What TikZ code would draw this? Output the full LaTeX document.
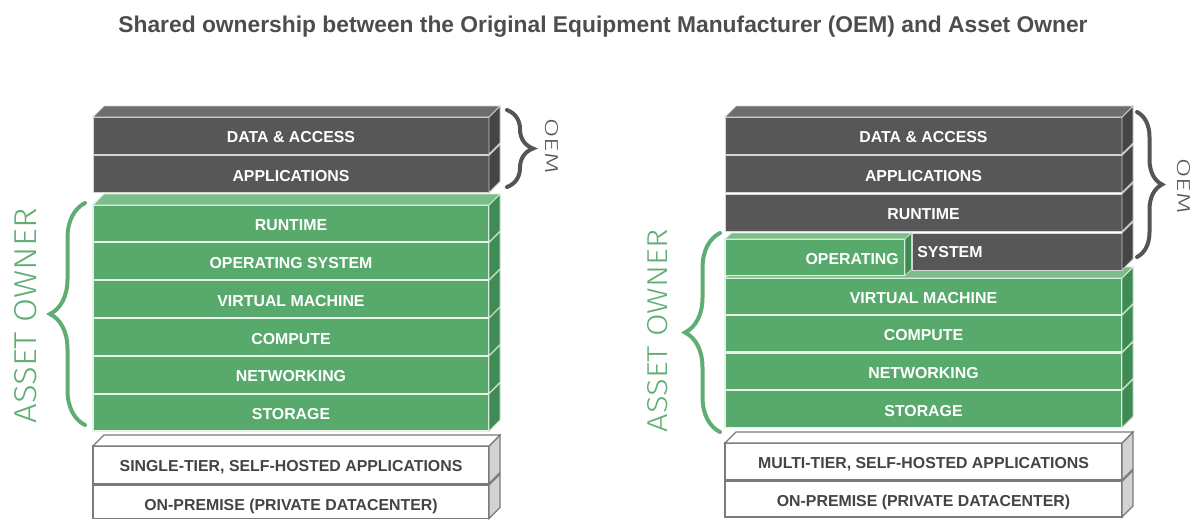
\documentclass[tikz,border=0pt]{standalone}
\usepackage{fontspec}
\setmainfont{Liberation Sans}
\newfontfamily\thinfont{Fira Sans Light}
\usetikzlibrary{decorations.pathreplacing}

\definecolor{dkfront}{HTML}{575757}
\definecolor{dktop}{HTML}{6E6E6E}
\definecolor{dkside}{HTML}{454545}
\definecolor{gnfront}{HTML}{58AA6C}
\definecolor{gntop}{HTML}{7BBE8B}
\definecolor{gnside}{HTML}{3F8B54}
\definecolor{wtside}{HTML}{D2D2D2}
\definecolor{wtline}{HTML}{7A7A7A}
\definecolor{wttext}{HTML}{444444}
\definecolor{titlegray}{HTML}{4D4D4D}
\definecolor{brgreen}{HTML}{5FAD72}
\definecolor{brgray}{HTML}{555555}

\tikzset{
  face/.style={inner sep=0pt, outer sep=0pt},
  dkF/.style={face, fill=dkfront, draw=white!75!dkfront, line width=0.7pt},
  dkS/.style={fill=dkside, draw=white!70!dkside, line width=0.6pt},
  dkT/.style={fill=dktop, draw=white!70!dktop, line width=0.6pt},
  gnF/.style={face, fill=gnfront, draw=white!85!gnfront, line width=0.8pt},
  gnS/.style={fill=gnside, draw=white!70!gnside, line width=0.6pt},
  gnT/.style={fill=gntop, draw=white!70!gntop, line width=0.6pt},
  wtF/.style={face, fill=white, draw=wtline, line width=0.9pt},
  wtS/.style={fill=wtside, draw=wtline, line width=0.9pt},
  wtT/.style={fill=white, draw=wtline, line width=0.9pt},
  facetext/.style={inner sep=0pt, text height=8.5pt, text depth=0pt,
    font=\fontsize{11.9pt}{12pt}\selectfont\bfseries, text=white},
  dkL/.style={facetext},
  gnL/.style={facetext},
  wtL/.style={facetext, text=wttext},
  curly/.style={decorate, line width=3pt, line cap=round},
}

% one slab: name, left x, top y, width, height, kind (dk/gn/wt), label
\newcommand\layer[7]{%
  \node[#6F, minimum width=#4*0.75pt, minimum height=#5*0.75pt, anchor=north west] (#1) at (#2,#3) {};
  \filldraw[#6S] (#1.north east) -- ++(11,-11) -- ++(0,#5) -- (#1.south east) -- cycle;
  \node[#6L] (#1t) at ([yshift=-1.1pt]#1.center) {#7};
}
% top face of a slab: name, width, kind
\newcommand\lid[3]{%
  \filldraw[#3T] (#1.north west) -- ++(11,-11) -- ++(#2,0) -- (#1.north east) -- cycle;
}

\begin{document}
\begin{tikzpicture}[x=0.75pt, y=-0.75pt]
\useasboundingbox (0,0) rectangle (1199,519);
\clip (0,0) rectangle (1199,519);

\node[font=\fontsize{17.1pt}{18pt}\selectfont\bfseries, text=titlegray] (title) at (603,27)
  {Shared ownership between the Original Equipment Manufacturer (OEM) and Asset Owner};

% ---------- left stack ----------
\layer{l1}{93}{117}{396}{37}{dk}{DATA \& ACCESS}
\lid{l1}{396}{dk}
\layer{l2}{93}{155.5}{396}{37}{dk}{APPLICATIONS}

\layer{l3}{93}{205}{396}{37}{gn}{RUNTIME}
\lid{l3}{396}{gn}
\layer{l4}{93}{242.8}{396}{37}{gn}{OPERATING SYSTEM}
\layer{l5}{93}{280.6}{396}{37}{gn}{VIRTUAL MACHINE}
\layer{l6}{93}{318.4}{396}{37}{gn}{COMPUTE}
\layer{l7}{93}{356.2}{396}{37}{gn}{NETWORKING}
\layer{l8}{93}{394}{396}{37}{gn}{STORAGE}

\layer{l9}{93}{446}{396}{37.5}{wt}{SINGLE-TIER, SELF-HOSTED APPLICATIONS}
\lid{l9}{396}{wt}
\layer{l10}{93}{485}{396}{33.5}{wt}{}
\node[wtL] (l10t) at (291,504.5) {ON-PREMISE (PRIVATE DATACENTER)};

% ---------- right stack ----------
\layer{r1}{725}{117}{397}{37}{dk}{DATA \& ACCESS}
\lid{r1}{397}{dk}
\layer{r2}{725}{155.5}{397}{37}{dk}{APPLICATIONS}
\layer{r3}{725}{194}{397}{37.5}{dk}{RUNTIME}

\layer{r5}{725}{278}{397}{36.5}{gn}{VIRTUAL MACHINE}
\lid{r5}{397}{gn}
\layer{r6}{725}{315.5}{397}{36.5}{gn}{COMPUTE}
\layer{r7}{725}{353}{397}{36.5}{gn}{NETWORKING}
\layer{r8}{725}{390.5}{397}{37}{gn}{STORAGE}

\layer{r4}{912}{233}{210}{37}{dk}{}
\node[facetext, anchor=west] (systxt) at (917,252) {SYSTEM};

% the operating-system slab pulled forward
\node[gnF, minimum width=180*0.75pt, minimum height=36.5*0.75pt, anchor=north west] (op) at (725,239) {};
\filldraw[gnT] (op.north west) -- ++(6.5,-6) -- ++(180,0) -- (op.north east) -- cycle;
\filldraw[gnS] (op.north east) -- ++(6.5,-6) -- ++(0,36.5) -- (op.south east) -- cycle;
\node[facetext, anchor=east] (optxt) at (899,258.5) {OPERATING};

\layer{r9}{725}{443}{397}{37}{wt}{MULTI-TIER, SELF-HOSTED APPLICATIONS}
\lid{r9}{397}{wt}
\layer{r10}{725}{481.5}{397}{35.5}{wt}{ON-PREMISE (PRIVATE DATACENTER)}

% ---------- braces and owner labels ----------
\draw[curly, brgray, decoration={brace, amplitude=19.5pt}] (507,110) -- (507,187);
\node[rotate=-90, text=brgray, inner sep=0pt] (oemL) at (552,146)
  {\resizebox{41.25pt}{9.75pt}{\thinfont OEM}};

\draw[curly, brgray, decoration={brace, amplitude=18.75pt}] (1137,112) -- (1137,257);
\node[rotate=-90, text=brgray, inner sep=0pt] (oemR) at (1184,186)
  {\resizebox{41.25pt}{9.75pt}{\thinfont OEM}};

\draw[curly, brgreen, decoration={brace, amplitude=26.25pt}] (85,425) -- (85,203);
\node[rotate=90, text=brgreen, inner sep=0pt] (aoL) at (26,316)
  {\resizebox{161.25pt}{16.5pt}{\thinfont ASSET OWNER}};

\draw[curly, brgreen, decoration={brace, amplitude=26.25pt}] (720,432) -- (720,233);
\node[rotate=90, text=brgreen, inner sep=0pt] (aoR) at (658,331)
  {\resizebox{152pt}{15pt}{\thinfont ASSET OWNER}};
\end{tikzpicture}
\end{document}
